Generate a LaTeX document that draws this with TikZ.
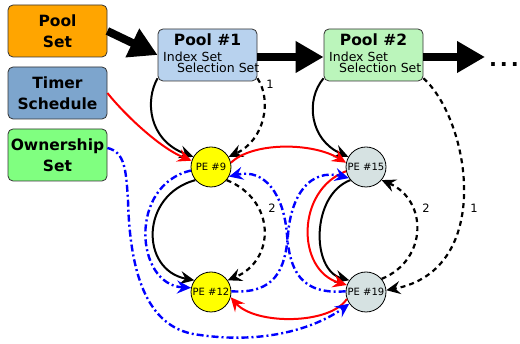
\documentclass[tikz,border=0pt]{standalone}
\usepackage{fontspec}
\setmainfont{DejaVu Sans}
\usetikzlibrary{arrows.meta}
\definecolor{cPoolSet}{RGB}{255,165,0}
\definecolor{cTimer}{RGB}{125,165,205}
\definecolor{cOwner}{RGB}{128,255,128}
\definecolor{cPoolA}{RGB}{184,210,238}
\definecolor{cPoolB}{RGB}{187,245,187}
\definecolor{cPEy}{RGB}{255,255,0}
\definecolor{cPEg}{RGB}{214,226,226}
\definecolor{cBlue}{RGB}{0,0,255}
\definecolor{cRed}{RGB}{255,0,0}
\begin{document}
\begin{tikzpicture}[x=1pt,y=-1pt,
 leftbox/.style={draw=black!80, line width=0.8pt, rounded corners=5pt, minimum width=99pt, minimum height=52pt, align=center, font=\bfseries\fontsize{15.5}{21}\selectfont, inner sep=0pt},
 poolbox/.style={draw=black!80, line width=0.8pt, rounded corners=5pt, minimum width=99pt, minimum height=52pt, inner sep=0pt},
 pooltitle/.style={font=\bfseries\fontsize{15.5}{15}\selectfont, inner sep=0pt, anchor=base},
 poolline/.style={font=\fontsize{12.5}{12.5}\selectfont, inner sep=0pt, anchor=base west},
 pe/.style={circle, draw=black, line width=0.8pt, minimum size=40pt, inner sep=0pt, font=\fontsize{10}{10}\selectfont},
 bigarr/.style={line width=8pt, -{Triangle[length=28pt,width=30pt]}},
 tipA/.style={-{Stealth[length=14pt,width=13pt,inset=5pt]}},
 solidarr/.style={tipA, line width=2pt, black},
 dasharr/.style={tipA, line width=2.2pt, black, dash pattern=on 5pt off 4pt},
 redarr/.style={tipA, line width=2pt, cRed},
 bluearr/.style={tipA, line width=2.4pt, cBlue, dash pattern=on 7pt off 3pt on 2pt off 3pt},
 lbl/.style={font=\fontsize{11.5}{11.5}\selectfont, inner sep=0pt}
]
\useasboundingbox (0,0) rectangle (520,344);

% boxes
\node[leftbox, fill=cPoolSet] (poolset) at (57.5,31) {Pool\\Set};
\node[leftbox, fill=cTimer] (timer) at (57.5,93) {Timer\\Schedule};
\node[leftbox, fill=cOwner] (owner) at (57.5,155) {Ownership\\Set};

\node[poolbox, fill=cPoolA] (pool1) at (207.5,55) {};
\node[pooltitle] (pool1t) at (207.5,46) {Pool \#1};
\node[poolline] (pool1i) at (163,61.5) {Index Set};
\node[poolline] (pool1s) at (177,72.5) {Selection Set};

\node[poolbox, fill=cPoolB] (pool2) at (373.5,55) {};
\node[pooltitle] (pool2t) at (373.5,46) {Pool \#2};
\node[poolline] (pool2i) at (329,61.5) {Index Set};
\node[poolline] (pool2s) at (339,72.5) {Selection Set};

\node[pe, fill=cPEy] (pe9) at (211,167) {PE \#9};
\node[pe, fill=cPEy] (pe12) at (211,292) {PE \#12};
\node[pe, fill=cPEg] (pe15) at (366,167) {PE \#15};
\node[pe, fill=cPEg] (pe19) at (366,292) {PE \#19};

\coordinate (more) at (485,57);
\node[anchor=base, font=\bfseries\fontsize{21}{21}\selectfont, inner sep=0pt] (dots) at (504,67) {.\hspace{3pt}.\hspace{3pt}.};

% big arrows
\draw[bigarr] (poolset.east) -- (pool1.west);
\draw[bigarr] ([yshift=-2pt]pool1.east) -- ([yshift=-2pt]pool2.west);
\draw[bigarr] ([yshift=-2pt]pool2.east) -- (more);

% black solid
\draw[solidarr] (pool1.205) .. controls (145,100) and (148,140) .. (pe9.150);
\draw[solidarr] (pool2.205) .. controls (305,100) and (310,140) .. (pe15.150);
\draw[solidarr] (pe9.220) .. controls (140,195) and (140,270) .. (pe12.145);
\draw[solidarr] (pe15.220) .. controls (311,195) and (311,270) .. (pe19.145);

% black dashed
\draw[dasharr] (pool1.-25) .. controls (272,100) and (265,140) .. (pe9.30);
\node[lbl] (l1a) at (270,84) {1};
\draw[dasharr] (pe9.-40) .. controls (276,200) and (276,260) .. (pe12.35);
\node[lbl] (l2a) at (272,208) {2};
\draw[dasharr] (pe19.40) .. controls (428,260) and (428,200) .. (pe15.-40);
\node[lbl] (l2b) at (426,208) {2};
\draw[dasharr] (pool2.-25) .. controls (470,120) and (495,270) .. (pe19.5);
\node[lbl] (l1b) at (474,208) {1};

% red
\draw[redarr] (timer.east) .. controls (125,115) and (160,148) .. (pe9.162);
\draw[redarr] (pe9.12) .. controls (252,142) and (312,142) .. (pe15.168);
\draw[redarr] (pe15.192) .. controls (296,190) and (296,270) .. (pe19.160);
\draw[redarr] (pe19.200) .. controls (330,325) and (255,325) .. (pe12.-15);

% blue
\draw[bluearr] (owner.8) .. controls (125,152) and (126,170) .. (128,200)
  .. controls (130,280) and (150,330) .. (200,335)
  .. controls (270,345) and (320,325) .. (pe19.215);
\draw[bluearr] (pe9.190) .. controls (128,185) and (135,285) .. (pe12.168);
\draw[bluearr] (pe12.2) .. controls (275,294) and (285,270) .. (288,235)
  .. controls (291,195) and (310,168) .. (pe15.213);
\draw[bluearr] (pe19.178) .. controls (300,295) and (290,270) .. (287,235)
  .. controls (284,195) and (265,168) .. (pe9.-28);
\end{tikzpicture}
\end{document}
